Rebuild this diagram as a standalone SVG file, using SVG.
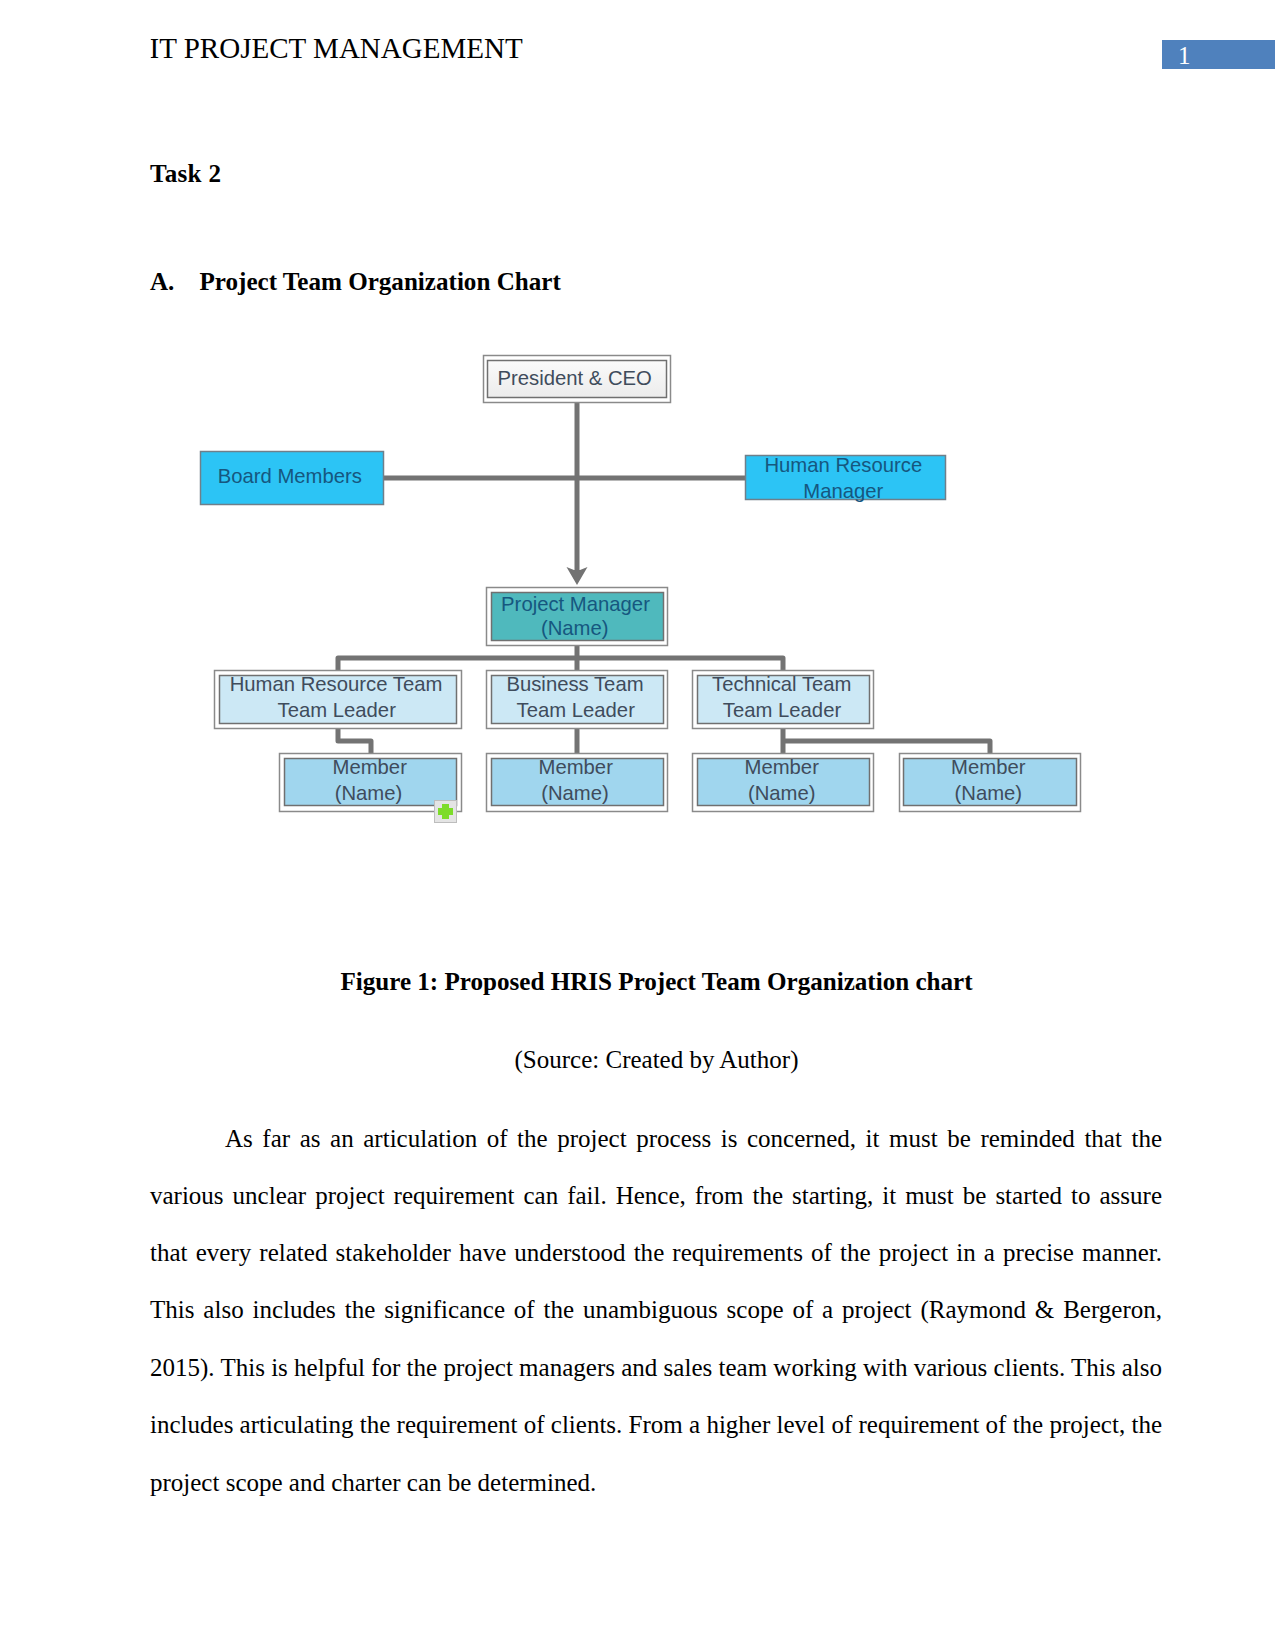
<svg xmlns="http://www.w3.org/2000/svg" width="1275" height="1650" viewBox="0 0 1275 1650">
<defs>
<linearGradient id="gw" x1="0" y1="0" x2="0" y2="1"><stop offset="0" stop-color="#fafafa"/><stop offset="1" stop-color="#ececec"/></linearGradient>
<clipPath id="hdr"><rect x="150.500" y="20" width="500" height="60"/></clipPath>
</defs>
<style>
.t{font-family:"Liberation Serif","Times New Roman",serif;fill:#000}
.b{font-size:25.1px;font-weight:bold}
.p{font-size:25px}
.n{font-family:"Liberation Sans",Arial,sans-serif;font-size:20.3px;text-anchor:middle;fill:#3f4c5c}
.d{fill:#16577f}
.o{fill:#fff;stroke:#8a8a8a;stroke-width:1.5}
.i{stroke:#707070;stroke-width:1.5}
.c{fill:none;stroke:#737373;stroke-width:5;stroke-linejoin:round}
.s{stroke:#6f7f8a;stroke-width:1.5}
</style>
<rect width="1275" height="1650" fill="#fff"/>
<g id="page">
<text class="t" x="149.500" y="58" font-size="29.05" clip-path="url(#hdr)">IT PROJECT MANAGEMENT</text>
<rect x="1162" y="40" width="113" height="29" fill="#4f81bd"/>
<text class="t" x="1178" y="64" font-size="25" style="fill:#fff">1</text>
<text class="t b" x="150" y="182" textLength="71">Task 2</text>
<text class="t b" x="150" y="290">A.</text>
<text class="t b" x="199.500" y="290">Project Team Organization Chart</text>
<text class="t b" x="656.500" y="989.500" text-anchor="middle">Figure 1: Proposed HRIS Project Team Organization chart</text>
<text class="t p" x="656.500" y="1068" text-anchor="middle">(Source: Created by Author)</text>
<text class="t p" x="225" y="1146.700" word-spacing="3.32" textLength="937" lengthAdjust="spacing">As far as an articulation of the project process is concerned, it must be reminded that the</text>
<text class="t p" x="150" y="1204" word-spacing="2.76" textLength="1012" lengthAdjust="spacing">various unclear project requirement can fail. Hence, from the starting, it must be started to assure</text>
<text class="t p" x="150" y="1261" word-spacing="1.82" textLength="1012" lengthAdjust="spacing">that every related stakeholder have understood the requirements of the project in a precise manner.</text>
<text class="t p" x="150" y="1318" word-spacing="2.6" textLength="1012" lengthAdjust="spacing">This also includes the significance of the unambiguous scope of a project (Raymond &amp; Bergeron,</text>
<text class="t p" x="150" y="1376" textLength="1012" lengthAdjust="spacing">2015). This is helpful for the project managers and sales team working with various clients. This also</text>
<text class="t p" x="150" y="1433" textLength="1012" lengthAdjust="spacing">includes articulating the requirement of clients. From a higher level of requirement of the project, the</text>
<text class="t p" x="150" y="1491">project scope and charter can be determined.</text>
</g>
<g id="connectors">
<path class="c" d="M384 478H745M577 403V570"/>
<polygon points="566.500,567 574,570 580,570 587.500,567 577,585" fill="#737373"/>
<path class="c" d="M577 646V670M338 670V658H783V670"/>
<path class="c" d="M338 729V741H371V753"/>
<path class="c" d="M577 729V753"/>
<path class="c" d="M783 729V753M783 741H990V753"/>
</g>
<g id="president"><rect class="o" x="483.500" y="355.500" width="187" height="47"/><rect class="i" x="487.500" y="360.500" width="179" height="37" fill="url(#gw)"/><text class="n" x="574.700" y="384.500">President &amp; CEO</text></g>
<g id="board"><rect class="s" x="200.500" y="451.500" width="183" height="53" fill="#2cc4f5"/><text class="n d" x="289.800" y="483.300">Board Members</text></g>
<g id="hrmanager"><rect class="s" x="745.500" y="455.500" width="200" height="44" fill="#2cc4f5"/><text class="n d" x="843.300" y="472">Human Resource</text><text class="n d" x="843.300" y="497.500">Manager</text></g>
<g id="pm"><rect class="o" x="486.500" y="587.500" width="181" height="58"/><rect class="i" x="491.500" y="592.500" width="172" height="48" fill="#4fb9bd"/><text class="n d" x="575.500" y="610.500">Project Manager</text><text class="n d" x="574.700" y="635">(Name)</text></g>
<g id="hrteam"><rect class="o" x="214.500" y="670.500" width="247" height="58"/><rect class="i" x="219.500" y="675.500" width="237" height="48" fill="#cce8f5"/><text class="n" x="336" y="691">Human Resource Team</text><text class="n" x="336.700" y="716.700">Team Leader</text></g>
<g id="bizteam"><rect class="o" x="486.500" y="670.500" width="181" height="58"/><rect class="i" x="491.500" y="675.500" width="172" height="48" fill="#cce8f5"/><text class="n" x="575" y="691">Business Team</text><text class="n" x="575.700" y="716.700">Team Leader</text></g>
<g id="techteam"><rect class="o" x="692.500" y="670.500" width="181" height="58"/><rect class="i" x="697.500" y="675.500" width="172" height="48" fill="#cce8f5"/><text class="n" x="781.800" y="691">Technical Team</text><text class="n" x="782" y="716.700">Team Leader</text></g>
<g id="member1"><rect class="o" x="279.500" y="753.500" width="182" height="58"/><rect class="i" x="284.500" y="758.500" width="172" height="47" fill="#a0d6ee"/><text class="n" x="369.700" y="774.300">Member</text><text class="n" x="368.500" y="800">(Name)</text>
<rect x="434.500" y="800.500" width="22" height="22" fill="#e4e4e4" stroke="#bdbdbd"/><path d="M445.500 804V819M438 811.500H453" stroke="#7ddc2a" stroke-width="7" fill="none"/></g>
<g id="member2"><rect class="o" x="486.500" y="753.500" width="181" height="58"/><rect class="i" x="491.500" y="758.500" width="172" height="47" fill="#a0d6ee"/><text class="n" x="575.700" y="774.300">Member</text><text class="n" x="575" y="800">(Name)</text></g>
<g id="member3"><rect class="o" x="692.500" y="753.500" width="181" height="58"/><rect class="i" x="697.500" y="758.500" width="172" height="47" fill="#a0d6ee"/><text class="n" x="781.700" y="774.300">Member</text><text class="n" x="781.700" y="800">(Name)</text></g>
<g id="member4"><rect class="o" x="899.500" y="753.500" width="181" height="58"/><rect class="i" x="903.500" y="758.500" width="173" height="47" fill="#a0d6ee"/><text class="n" x="988.300" y="774.300">Member</text><text class="n" x="988.300" y="800">(Name)</text></g>
</svg>
